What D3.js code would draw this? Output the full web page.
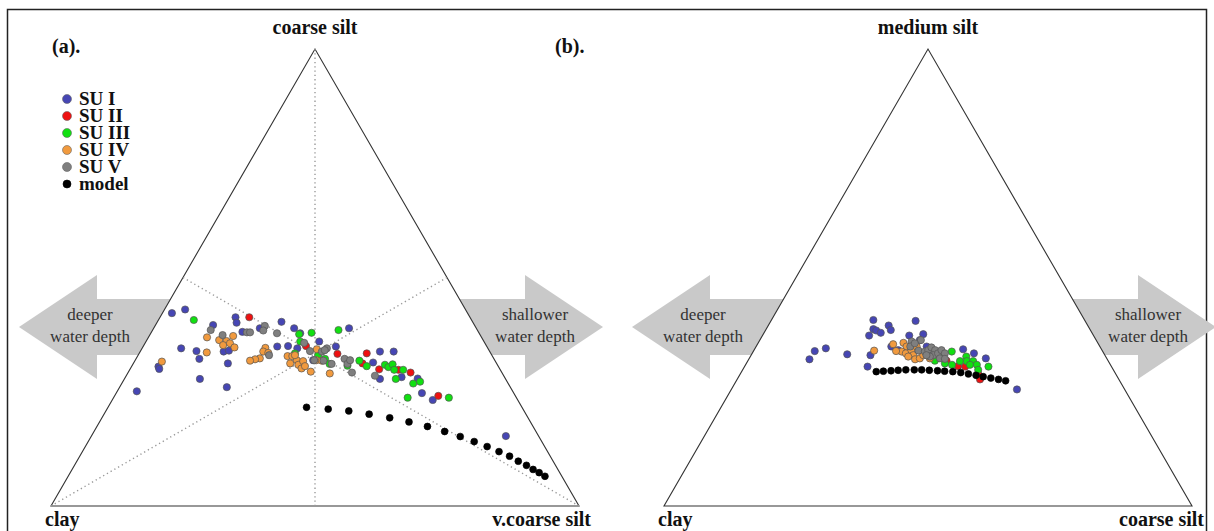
<!DOCTYPE html>
<html>
<head>
<meta charset="utf-8">
<script src="https://cdn.jsdelivr.net/npm/d3@7"></script>
<style>
  html, body { margin: 0; padding: 0; background: #fff; }
  svg { display: block; }
</style>
</head>
<body>
<svg id="chart" width="1214" height="531"></svg>
<script>
// Grain-size compositions plotted on ternary diagrams.
// Every point is [top-corner %, right-corner %]; the left corner (clay) holds the remainder.

const unitNames = ["SU I", "SU II", "SU III", "SU IV", "SU V", "model"];
const cornersA = ["clay", "coarse silt", "v.coarse silt"];
const cornersB = ["clay", "medium silt", "coarse silt"];

// (a) clay / coarse silt / v.coarse silt
const suI_a = [[42.2,1.8],[43.0,3.9],[41.3,14.3],[40.1,15.1],[39.6,10.9],[38.1,17.2],[38.9,20.1],[40.3,23.5],[38.9,26.6],
  [34.5,7.4],[33.9,10.6],[32.2,12.0],[33.8,15.8],[34.0,16.7],[31.2,17.9],[30.5,5.1],[30.0,5.5],[27.8,14.3],[26.0,20.3],
  [25.1,3.7],[34.9,25.4],[35.0,27.4],[34.5,29.4],[37.8,28.3],[36.0,32.8],[34.9,36.5],[38.9,37.0],[31.4,45.3],[33.8,45.4],
  [33.8,48.0],[27.8,48.4],[28.2,52.3],[27.9,55.5],[24.7,57.9],[23.2,60.7],[15.3,78.5],[31.9,33.7]];
const suII_a = [[41.3,16.9],[35.0,30.8],[33.3,37.6],[33.4,43.1],[31.2,43.4],[29.9,47.2],[29.8,50.9],[29.2,53.5],[24.1,61.3]];
const suIII_a = [[40.7,6.7],[37.6,28.2],[37.9,30.4],[38.5,35.2],[36.0,29.2],[33.4,29.5],[33.0,34.1],[32.2,35.8],[31.1,37.2],
  [30.7,40.8],[31.8,42.5],[30.6,44.5],[30.9,47.8],[30.4,48.7],[31.0,49.2],[29.8,50.1],[29.8,51.8],[27.8,51.4],[26.8,55.2],
  [27.2,56.3],[23.7,55.7],[23.7,63.5]];
const suIV_a = [[36.9,11.1],[36.3,13.7],[36.1,15.2],[37.2,15.9],[35.2,15.0],[35.6,16.1],[34.7,17.4],[33.6,12.7],[31.6,5.2],
  [34.6,23.3],[33.8,23.3],[33.5,24.4],[32.3,23.4],[32.1,22.6],[31.8,21.8],[32.8,28.4],[32.8,29.3],[31.9,30.6],[31.2,29.7],
  [30.9,31.4],[31.7,31.9],[30.1,32.4],[30.6,32.8],[29.4,34.5],[34.3,33.2],[29.0,38.3],[31.9,34.3],[33.0,29.7],[31.8,35.4]];
const suV_a = [[38.5,11.0],[37.4,13.8],[38.0,18.1],[38.0,18.7],[39.4,20.8],[38.4,21.0],[37.8,23.9],[35.7,30.1],[33.9,32.1],
  [31.9,33.9],[31.8,35.7],[34.5,35.0],[33.8,34.4],[33.0,24.8],[31.1,37.6],[34.1,34.8],[32.2,39.5],[31.1,40.6],[31.9,40.7],
  [29.2,42.4],[28.5,47.1]];
const model_a = [[21.6,37.6],[21.2,41.9],[20.8,46.0],[20.1,50.2],[19.3,54.5],[18.4,58.6],[17.4,62.6],[16.3,66.4],[15.2,69.9],
  [14.1,73.1],[13.0,76.1],[11.9,78.9],[10.9,81.4],[9.8,83.6],[8.9,85.6],[8.0,87.3],[7.3,88.8],[6.5,90.3]];

// (b) clay / medium silt / coarse silt
const suI_b = [[40.7,19.3],[38.7,20.3],[38.4,21.0],[37.3,20.2],[37.9,22.1],[39.5,22.8],[38.5,23.7],[40.5,27.4],[37.3,27.8],
  [37.6,30.3],[33.9,11.6],[34.5,13.4],[32.1,11.5],[33.2,18.1],[33.0,22.6],[30.5,23.3],[34.9,25.6],[34.1,27.3],[36.3,30.3],
  [34.3,39.5],[33.4,42.0],[32.3,44.8],[25.5,54.1],[34.9,32.3]];
const suII_b = [[31.8,37.6],[30.6,40.4],[30.5,41.8],[27.7,46.0],[29.0,45.0]];
const suIII_b = [[31.8,35.4],[31.2,37.6],[33.8,37.6],[30.9,39.1],[31.7,40.2],[32.7,40.9],[31.7,41.5],[31.7,42.7],[30.9,42.5],
  [30.9,43.8],[30.5,46.2],[29.8,44.6],[32.8,36.2]];
const suIV_b = [[34.0,22.8],[35.4,25.7],[35.7,27.5],[34.9,28.5],[33.8,28.1],[33.4,29.1],[34.1,29.8],[33.0,30.7],[32.1,31.5],
  [32.3,32.3],[33.0,32.6],[32.3,34.2],[32.7,29.9],[34.9,30.4],[33.9,27.0]];
const suV_b = [[36.0,28.9],[36.3,30.5],[34.9,29.2],[35.6,29.7],[34.0,31.2],[33.8,32.5],[34.1,33.0],[34.7,33.3],[34.1,34.3],
  [33.0,34.5],[33.4,35.2],[34.1,35.5],[33.4,36.5],[32.7,34.0],[32.3,36.1],[32.2,37.1],[33.0,33.2]];
const model_b = [[29.4,25.5],[29.5,26.8],[29.6,28.2],[29.7,29.5],[29.8,30.9],[29.8,32.5],[29.8,33.9],[29.7,35.4],[29.6,37.0],
  [29.5,38.4],[29.4,40.0],[29.2,41.6],[28.9,43.2],[28.6,44.8],[28.3,46.3],[28.0,47.9],[27.7,49.5],[27.4,51.0]];

const fills = ["#4646b4", "#ee1111", "#11e011", "#f19a3e", "#7f7f7f", "#000000"];
const serif = "'Liberation Serif', 'Times New Roman', serif";

const svg = d3.select("#chart");

// outer frame
svg.append("rect")
  .attr("x", 7.5).attr("y", 9.5).attr("width", 1199).attr("height", 540)
  .attr("fill", "none").attr("stroke", "#222").attr("stroke-width", 1.5);

function drawPanel(dx, corners, tag, tagX, series, withMedians, withLegend) {
  const g = svg.append("g").attr("transform", `translate(${dx},0)`);
  // horizontal position follows right% + top%/2, vertical position follows top%
  const x = d3.scaleLinear().domain([0, 100]).range([51, 579]);
  const y = d3.scaleLinear().domain([0, 100]).range([506, 49]);
  const px = d => x(d[1] + d[0] / 2);
  const py = d => y(d[0]);

  // direction arrows (partly hidden behind the white triangle)
  const arrows = [
    { pts: [[19,327],[97,275],[97,299],[200,299],[200,355],[97,355],[97,379]], cx: 90, lines: ["deeper", "water depth"] },
    { pts: [[603,327],[525,275],[525,299],[420,299],[420,355],[525,355],[525,379]], cx: 535, lines: ["shallower", "water depth"] }
  ];
  arrows.forEach(a => {
    g.append("polygon").attr("points", a.pts.map(p => p.join(",")).join(" "))
      .attr("fill", "#c9c9c9");
  });

  const cLeft = [0, 0], cTop = [100, 0], cRight = [0, 100];
  g.append("polygon")
    .attr("points", [cLeft, cRight, cTop].map(c => `${px(c)},${py(c)}`).join(" "))
    .attr("fill", "#fff").attr("stroke", "#333").attr("stroke-width", 1.1);

  arrows.forEach(a => {
    a.lines.forEach((t, i) => {
      g.append("text").attr("x", a.cx).attr("y", 320 + i * 22)
        .attr("text-anchor", "middle").attr("font-family", serif)
        .attr("font-size", 17).attr("fill", "#333").text(t);
    });
  });

  if (withMedians) {
    const mid = (p, q) => [(p[0] + q[0]) / 2, (p[1] + q[1]) / 2];
    [[cTop, mid(cLeft, cRight)], [cLeft, mid(cTop, cRight)], [cRight, mid(cTop, cLeft)]].forEach(([p, q]) => {
      g.append("line")
        .attr("x1", px(p)).attr("y1", py(p)).attr("x2", px(q)).attr("y2", py(q))
        .attr("stroke", "#999").attr("stroke-width", 1.4).attr("stroke-dasharray", "1.3,3");
    });
  }

  series.forEach((s, i) => {
    const isModel = i === series.length - 1;
    g.append("g").selectAll("circle").data(s).join("circle")
      .attr("cx", px).attr("cy", py)
      .attr("r", isModel ? 3.4 : 3.6)
      .attr("fill", fills[i])
      .attr("stroke", isModel ? "#000" : "#555")
      .attr("stroke-width", 0.7);
  });

  // corner and panel labels
  const bold = (sel, size = 20) => sel.attr("font-family", serif).attr("font-weight", "bold")
    .attr("font-size", size).attr("fill", "#111");
  bold(g.append("text").attr("x", tagX).attr("y", 53).text(tag));
  bold(g.append("text").attr("x", px(cTop)).attr("y", 34).attr("text-anchor", "middle").text(corners[1]));
  bold(g.append("text").attr("x", 45).attr("y", 526).text(corners[0]));
  bold(g.append("text").attr("x", 591).attr("y", 526).attr("text-anchor", "end").text(corners[2]));

  if (withLegend) {
    const lg = g.append("g");
    unitNames.forEach((n, i) => {
      const yy = 99 + i * 17;
      lg.append("circle").attr("cx", 67).attr("cy", yy).attr("r", i === 5 ? 4 : 4.5)
        .attr("fill", fills[i]).attr("stroke", i === 5 ? "#000" : "#666").attr("stroke-width", 0.6);
      bold(lg.append("text").attr("x", 79).attr("y", yy + 6).text(n), 19);
    });
  }
}

drawPanel(0, cornersA, "(a).", 52, [suI_a, suII_a, suIII_a, suIV_a, suV_a, model_a], true, true);
drawPanel(613, cornersB, "(b).", -58, [suI_b, suII_b, suIII_b, suIV_b, suV_b, model_b], false, false);
</script>
</body>
</html>
